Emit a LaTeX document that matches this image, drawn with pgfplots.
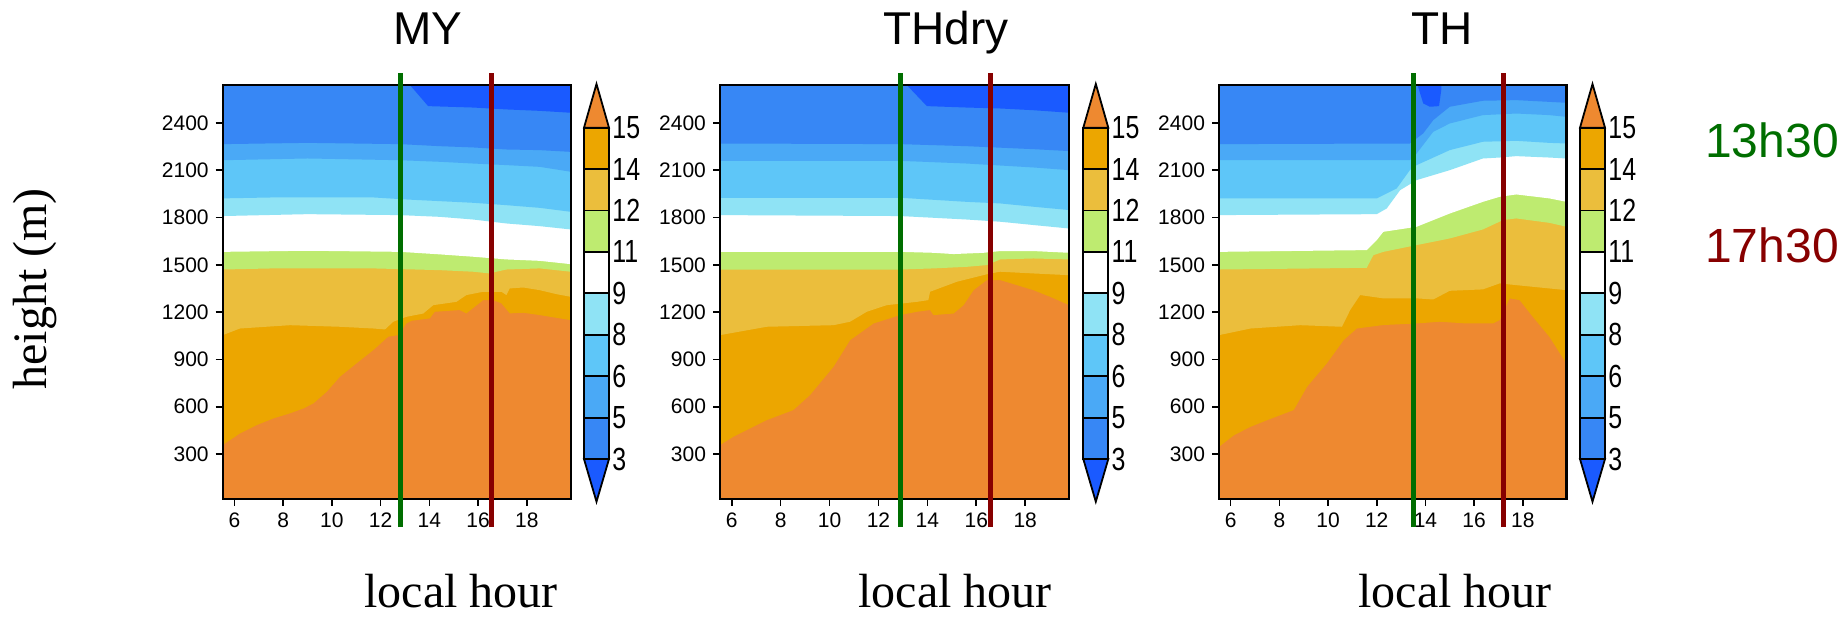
\documentclass[border=0pt]{standalone}
\usepackage{pgfplots}
\pgfplotsset{compat=1.18}
\usepackage{fontspec}
\setmainfont{Liberation Sans}
\newfontfamily\seriffont{Liberation Serif}
\definecolor{cA}{RGB}{238,137,48}
\definecolor{cB}{RGB}{236,166,0}
\definecolor{cC}{RGB}{235,190,60}
\definecolor{cD}{RGB}{190,235,112}
\definecolor{cF}{RGB}{143,227,245}
\definecolor{cG}{RGB}{94,198,248}
\definecolor{cH}{RGB}{74,169,246}
\definecolor{cI}{RGB}{55,135,245}
\definecolor{cJ}{RGB}{26,90,255}
\definecolor{lgreen}{RGB}{0,110,0}
\definecolor{lred}{RGB}{135,0,0}
\newcommand\cb[1]{\scalebox{0.78}[1]{#1}}
\pgfplotsset{
  mainax/.style={scale only axis, width=174pt, height=207pt, anchor=south west,
    xmin=5.52, xmax=19.8, ymin=15, ymax=2640,
    xtick={6,8,...,18}, ytick={300,600,...,2400},
    tick pos=left, tick align=outside, major tick length=3.5pt,
    axis on top, axis line style={line width=1.2pt}, tick style={line width=0.8pt, black},
    tick label style={font=\fontsize{10.5}{12}\selectfont},
    /pgf/number format/assume math mode=true, /pgf/number format/1000 sep={}},
  lineax/.style={scale only axis, width=174pt, height=207pt, anchor=south west,
    xmin=5.52, xmax=19.8, ymin=15, ymax=2640, hide axis, clip=false},
  cbax/.style={scale only axis, width=12.5pt, height=208.85pt, anchor=south west,
    xmin=0, xmax=1, ymin=-1.03, ymax=9.055, clip=false,
    axis line style={draw=none}, xtick=\empty, ytick={0,...,8},
    yticklabels={\cb{3},\cb{5},\cb{6},\cb{8},\cb{9},\cb{11},\cb{12},\cb{14},\cb{15}},
    ytick pos=right, yticklabel pos=right, major tick length=0pt,
    yticklabel style={font=\fontsize{16}{18}\selectfont, anchor=west, inner sep=0pt, xshift=1.5pt}},
  fl/.style={fill=#1, draw=none},
  cbbox/.style={fill=#1, draw=black, line width=0.9pt}
}
\newcommand\colorbar[1]{%
\begin{axis}[cbax, at={(#1,59.15pt)}]
\addplot[cbbox=cI] coordinates {(0,0) (1,0) (1,1) (0,1)} -- cycle;
\addplot[cbbox=cH] coordinates {(0,1) (1,1) (1,2) (0,2)} -- cycle;
\addplot[cbbox=cG] coordinates {(0,2) (1,2) (1,3) (0,3)} -- cycle;
\addplot[cbbox=cF] coordinates {(0,3) (1,3) (1,4) (0,4)} -- cycle;
\addplot[cbbox=white] coordinates {(0,4) (1,4) (1,5) (0,5)} -- cycle;
\addplot[cbbox=cD] coordinates {(0,5) (1,5) (1,6) (0,6)} -- cycle;
\addplot[cbbox=cC] coordinates {(0,6) (1,6) (1,7) (0,7)} -- cycle;
\addplot[cbbox=cB] coordinates {(0,7) (1,7) (1,8) (0,8)} -- cycle;
\addplot[cbbox=cA] coordinates {(0,8) (1,8) (0.5,9.055)} -- cycle;
\addplot[cbbox=cJ] coordinates {(0,0) (1,0) (0.5,-1.03)} -- cycle;
\end{axis}}
\begin{document}
\begin{tikzpicture}
\useasboundingbox (0,0) rectangle (921.5pt,310pt);
% ---------------- Panel 1: MY
\begin{axis}[mainax, at={(111.35pt,60.5pt)}]
\addplot[fl=cA] coordinates {(5.52,15) (19.8,15) (19.8,2640) (5.52,2640)};
\addplot[fl=cB] coordinates {(5.52,357) (6.23,431) (6.92,484) (7.60,526) (8.28,558) (8.83,589) (9.24,621) (9.79,695) (10.33,790) (11.01,875) (11.70,959) (12.31,1044) (12.72,1054) (13.06,1128) (13.27,1145) (14.02,1160) (14.22,1202) (15.25,1213) (15.52,1192) (16.21,1276) (16.62,1276) (16.96,1255) (17.30,1192) (17.85,1196) (18.53,1181) (19.8,1149) (19.8,2640) (5.52,2640)};
\addplot[fl=cC] coordinates {(5.52,1054) (6.23,1096) (8.28,1117) (10.33,1107) (11.70,1096) (12.18,1090) (12.52,1139) (13.06,1170) (13.75,1191) (14.16,1244) (15.11,1265) (15.52,1308) (16.21,1329) (16.96,1329) (17.16,1308) (17.30,1350) (17.85,1356) (18.53,1339) (19.21,1314) (19.8,1297) (19.8,2640) (5.52,2640)};
\addplot[fl=cD] coordinates {(5.52,1470) (7.60,1477) (11.70,1477) (14.43,1466) (15.80,1456) (16.48,1445) (16.75,1456) (17.16,1470) (18.53,1477) (19.8,1456) (19.8,2640) (5.52,2640)};
\addplot[fl=white] coordinates {(5.52,1582) (9.0,1589) (12.8,1582) (14.43,1566) (15.80,1551) (17.16,1534) (18.53,1525) (19.8,1504) (19.8,2640) (5.52,2640)};
\addplot[fl=cF] coordinates {(5.52,1809) (9.0,1821) (12.8,1815) (14.43,1804) (15.80,1787) (17.16,1762) (18.53,1745) (19.8,1724) (19.8,2640) (5.52,2640)};
\addplot[fl=cG] coordinates {(5.52,1921) (7.6,1927) (11.7,1927) (13.06,1914) (15.80,1893) (17.16,1878) (18.53,1861) (19.8,1836) (19.8,2640) (5.52,2640)};
\addplot[fl=cH] coordinates {(5.52,2163) (9.0,2174) (12.8,2163) (14.43,2153) (15.80,2142) (17.16,2132) (18.53,2121) (19.8,2090) (19.8,2640) (5.52,2640)};
\addplot[fl=cI] coordinates {(5.52,2265) (9.0,2273) (12.8,2265) (14.43,2252) (15.80,2244) (17.16,2231) (18.53,2227) (19.8,2216) (19.8,2640) (5.52,2640)};
\addplot[fl=cJ] coordinates {(13.2,2640) (13.27,2628) (13.95,2506) (15.80,2497) (17.16,2485) (18.53,2476) (19.8,2464) (19.8,2640)};
\end{axis}
\begin{axis}[lineax, at={(111.35pt,60.5pt)}]
\addplot[lgreen, line width=2.5pt] coordinates {(12.83,-163) (12.83,2715)};
\addplot[lred, line width=2.5pt] coordinates {(16.55,-163) (16.55,2715)};
\end{axis}
\colorbar{292pt}
% ---------------- Panel 2: THdry
\begin{axis}[mainax, at={(360pt,60.5pt)}, width=174.6pt]
\addplot[fl=cA] coordinates {(5.52,15) (19.8,15) (19.8,2640) (5.52,2640)};
\addplot[fl=cB] coordinates {(5.52,357) (6.07,410) (6.75,463) (7.43,515) (8.52,579) (9.20,674) (10.16,853) (10.84,1022) (11.80,1128) (12.89,1181) (13.57,1202) (14.11,1213) (14.25,1181) (15.07,1191) (15.48,1244) (15.89,1339) (16.43,1403) (16.98,1403) (18.34,1339) (19.02,1297) (19.8,1244) (19.8,2640) (5.52,2640)};
\addplot[fl=cC] coordinates {(5.52,1054) (7.43,1107) (10.16,1117) (10.84,1139) (11.52,1202) (12.34,1244) (13.57,1265) (14.04,1276) (14.11,1329) (15.20,1392) (16.02,1424) (16.57,1445) (16.98,1456) (18.34,1445) (19.8,1434) (19.8,2640) (5.52,2640)};
\addplot[fl=cD] coordinates {(5.52,1470) (12.89,1470) (14.25,1477) (15.61,1487) (16.43,1498) (16.98,1534) (18.34,1540) (19.8,1534) (19.8,2640) (5.52,2640)};
\addplot[fl=white] coordinates {(5.52,1582) (12.89,1582) (14.25,1576) (15.07,1568) (16.30,1576) (16.98,1587) (18.34,1587) (19.8,1576) (19.8,2640) (5.52,2640)};
\addplot[fl=cF] coordinates {(5.52,1815) (12.89,1809) (15.61,1787) (16.98,1773) (18.34,1752) (19.8,1730) (19.8,2640) (5.52,2640)};
\addplot[fl=cG] coordinates {(5.52,1925) (12.89,1925) (15.61,1899) (16.98,1889) (18.34,1868) (19.8,1847) (19.8,2640) (5.52,2640)};
\addplot[fl=cH] coordinates {(5.52,2159) (12.89,2159) (15.61,2142) (18.34,2117) (19.8,2100) (19.8,2640) (5.52,2640)};
\addplot[fl=cI] coordinates {(5.52,2269) (12.89,2265) (15.61,2252) (18.34,2233) (19.8,2221) (19.8,2640) (5.52,2640)};
\addplot[fl=cJ] coordinates {(13.16,2640) (13.23,2628) (13.98,2506) (15.61,2497) (16.98,2491) (18.34,2480) (19.8,2464) (19.8,2640)};
\end{axis}
\begin{axis}[lineax, at={(360pt,60.5pt)}, width=174.6pt]
\addplot[lgreen, line width=2.5pt] coordinates {(12.89,-163) (12.89,2715)};
\addplot[lred, line width=2.5pt] coordinates {(16.6,-163) (16.6,2715)};
\end{axis}
\colorbar{541.65pt}
% ---------------- Panel 3: TH
\begin{axis}[mainax, at={(609.5pt,60.5pt)}, width=173.8pt]
\addplot[fl=cA] coordinates {(5.52,15) (19.8,15) (19.8,2640) (5.52,2640)};
\addplot[fl=cB] coordinates {(5.52,346) (6.14,420) (6.82,473) (7.50,515) (8.59,579) (9.14,727) (9.95,875) (10.64,1022) (11.18,1096) (12.27,1118) (13.64,1128) (14.59,1139) (15.68,1128) (16.77,1128) (17.05,1149) (17.46,1287) (17.87,1276) (18.41,1170) (19.09,1044) (19.70,896) (19.8,875) (19.8,2640) (5.52,2640)};
\addplot[fl=cC] coordinates {(5.52,1054) (6.82,1096) (8.86,1117) (10.57,1107) (10.91,1213) (11.32,1308) (12.27,1287) (13.64,1287) (14.32,1280) (15.00,1335) (16.36,1344) (17.05,1382) (17.73,1371) (19.09,1350) (19.8,1339) (19.8,2640) (5.52,2640)};
\addplot[fl=cD] coordinates {(5.52,1470) (9.55,1477) (11.59,1481) (11.86,1561) (12.27,1582) (13.64,1625) (15.00,1667) (16.36,1724) (17.18,1783) (17.73,1794) (19.09,1766) (19.8,1741) (19.8,2640) (5.52,2640)};
\addplot[fl=white] coordinates {(5.52,1582) (11.59,1593) (12.00,1656) (12.27,1709) (13.64,1741) (15.00,1825) (16.36,1899) (17.05,1931) (17.73,1946) (19.09,1921) (19.8,1899) (19.8,2640) (5.52,2640)};
\addplot[fl=cF] coordinates {(5.52,1815) (12.00,1821) (12.41,1857) (12.96,1973) (13.64,2037) (15.00,2100) (16.36,2174) (17.05,2180) (17.73,2189) (19.09,2180) (19.8,2174) (19.8,2640) (5.52,2640)};
\addplot[fl=cG] coordinates {(5.52,1921) (12.00,1921) (12.82,1984) (13.36,2100) (13.64,2132) (15.00,2227) (16.36,2280) (17.73,2286) (19.09,2273) (19.8,2269) (19.8,2640) (5.52,2640)};
\addplot[fl=cH] coordinates {(5.52,2163) (13.36,2163) (13.64,2206) (14.32,2343) (15.00,2396) (16.36,2449) (17.73,2459) (19.09,2449) (19.8,2438) (19.8,2640) (5.52,2640)};
\addplot[fl=cI] coordinates {(5.52,2265) (13.36,2269) (13.91,2333) (14.32,2417) (15.00,2502) (16.36,2540) (17.73,2544) (19.09,2533) (19.8,2527) (19.8,2640) (5.52,2640)};
\addplot[fl=cJ] coordinates {(13.70,2640) (13.70,2628) (13.91,2523) (14.18,2502) (14.56,2506) (14.66,2618) (14.66,2640)};
\end{axis}
\begin{axis}[lineax, at={(609.5pt,60.5pt)}, width=173.8pt]
\addplot[lgreen, line width=2.5pt] coordinates {(13.5,-163) (13.5,2715)};
\addplot[lred, line width=2.5pt] coordinates {(17.2,-163) (17.2,2715)};
\end{axis}
\colorbar{790pt}
% ---------------- texts
\node[anchor=base, font=\fontsize{23}{26}\selectfont] at (214pt,287.5pt) {MY};
\node[anchor=base, font=\fontsize{23}{26}\selectfont] at (473pt,287.5pt) {THdry};
\node[anchor=base, font=\fontsize{23}{26}\selectfont] at (721pt,287.5pt) {TH};
\node[anchor=base, font=\seriffont\fontsize{24}{26}\selectfont] at (230.5pt,6pt) {local hour};
\node[anchor=base, font=\seriffont\fontsize{24}{26}\selectfont] at (477.5pt,6pt) {local hour};
\node[anchor=base, font=\seriffont\fontsize{24}{26}\selectfont] at (727.5pt,6pt) {local hour};
\node[rotate=90, font=\seriffont\fontsize{24}{26}\selectfont] at (17.5pt,165.5pt) {height (m)};
\node[anchor=base, text=lgreen, font=\fontsize{24}{26}\selectfont] at (886pt,231pt) {13h30};
\node[anchor=base, text=lred, font=\fontsize{24}{26}\selectfont] at (886pt,178.5pt) {17h30};
\end{tikzpicture}
\end{document}
